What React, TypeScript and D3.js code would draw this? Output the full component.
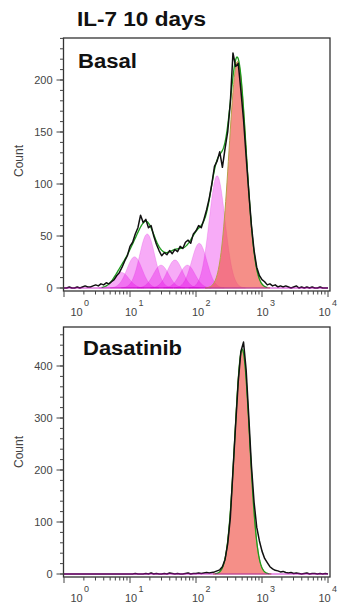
import React, { useEffect, useRef } from "react";
import * as d3 from "d3";

// histogram channels: log10 of intensity, one bin every 0.04 decade (10^0 .. 10^4)
const channelLogs = d3.range(101).map((i) => i * 0.04);

const basalCounts = [
  0, 0, 1, 0, 0, 1, 0, 1, 2, 1,
  1, 2, 3, 2, 4, 3, 5, 4, 6, 8,
  12, 15, 20, 26, 31, 40, 44, 52, 58, 70,
  63, 66, 58, 60, 50, 42, 36, 31, 34, 32,
  36, 33, 37, 35, 40, 38, 44, 46, 43, 52,
  55, 60, 58, 66, 75, 86, 100, 117, 122, 131,
  116, 134, 150, 178, 226, 213, 216, 190, 162, 126,
  92, 60, 36, 20, 12, 8, 6, 3, 4, 2,
  3, 1, 2, 1, 2, 1, 0, 1, 2, 0,
  1, 0, 1, 0, 1, 0, 0, 1, 0, 0,
  0,
];

const dasatinibCounts = [
  0, 0, 0, 0, 0, 0, 0, 0, 0, 0,
  0, 0, 0, 0, 0, 0, 0, 0, 0, 0,
  0, 0, 0, 0, 0, 0, 0, 1, 0, 0,
  0, 1, 0, 2, 0, 1, 0, 0, 1, 0,
  2, 1, 0, 1, 0, 0, 1, 2, 0, 1,
  1, 2, 1, 2, 3, 2, 3, 4, 6, 8,
  14, 28, 58, 108, 198, 286, 370, 428, 446, 392,
  302, 208, 138, 90, 64, 44, 30, 22, 14, 10,
  7, 6, 4, 5, 3, 2, 3, 1, 2, 1,
  0, 1, 2, 0, 1, 1, 0, 1, 0, 1,
  0,
];

// proliferation model fit: divided generations (magenta) and the undivided peak (red)
const basalGenPeaks = [7.4, 11.7, 18.2, 29.5, 47.9, 74.1, 112, 209];
const basalGenHeights = [15, 30, 52, 22, 27, 22, 43, 108];
const basalGenWidths = [0.115, 0.115, 0.115, 0.115, 0.115, 0.115, 0.115, 0.12]; // decades
const basalParent = [427, 218, 0.13]; // peak, height, width

const dasatinibGenPeaks: number[] = [];
const dasatinibGenHeights: number[] = [];
const dasatinibGenWidths: number[] = [];
const dasatinibParent = [501, 432, 0.112];

const xDecades = [1, 10, 100, 1000, 10000];
const xExponents = ["0", "1", "2", "3", "4"];
const basalYTicks = [0, 50, 100, 150, 200];
const dasatinibYTicks = [0, 100, 200, 300, 400];

const FONT = "'Liberation Sans', Arial, Helvetica, sans-serif";

interface PanelOpts {
  boxTop: number;
  boxBottom: number;
  zeroY: number;
  refY: number;
  yTicks: number[];
  minorStep: number;
  label: string;
  labelX: number;
  labelY: number;
  labelLength: number;
  countY: number;
  counts: number[];
  genPeaks: number[];
  genHeights: number[];
  genWidths: number[];
  parent: number[];
}

const drawPanel = (svg: d3.Selection<SVGSVGElement, unknown, null, undefined>, o: PanelOpts) => {
  const left = 63.5;
  const right = 330;
  const x = d3.scaleLog().domain([1, 10000]).range([64, 328]);
  const yRef = o.yTicks[o.yTicks.length - 1];
  const y = d3.scaleLinear().domain([0, yRef]).range([o.zeroY, o.refY]);

  const g = svg.append("g");
  const fine = d3.range(401).map((i) => i / 100);

  const bell = (peak: number, h: number, w: number) =>
    fine.map((L) => ({ L, v: h * Math.exp(-0.5 * ((L - Math.log10(peak)) / w) ** 2) }));

  const gens = o.genPeaks.map((p, i) => bell(p, o.genHeights[i], o.genWidths[i]));
  const parent = bell(o.parent[0], o.parent[1], o.parent[2]);

  const area = d3
    .area<{ L: number; v: number }>()
    .x((d) => x(10 ** d.L))
    .y0(y(0))
    .y1((d) => y(d.v));

  gens.forEach((curve) => {
    const pts = curve.filter((d) => d.v > 0.15);
    g.append("path")
      .attr("d", area(pts)!)
      .attr("fill", "#e600e6")
      .attr("fill-opacity", 0.33)
      .attr("stroke", "#d000d0")
      .attr("stroke-opacity", 0.3)
      .attr("stroke-width", 0.6);
  });

  const parentPts = parent.filter((d) => d.v > 0.15);
  g.append("path")
    .attr("d", area(parentPts)!)
    .attr("fill", "#f05a50")
    .attr("fill-opacity", 0.68)
    .attr("stroke", "#b8a04a")
    .attr("stroke-width", 1);

  // model sum (green)
  const sum = fine.map((L, i) => ({
    L,
    v: parent[i].v + d3.sum(gens, (c) => c[i].v),
  }));
  const line = d3
    .line<{ L: number; v: number }>()
    .x((d) => x(10 ** d.L))
    .y((d) => y(d.v));
  g.append("path")
    .attr("d", line(sum.filter((d) => d.v > 0.5))!)
    .attr("fill", "none")
    .attr("stroke", "#1c9c1c")
    .attr("stroke-width", 1.3);

  // raw histogram (black)
  const hist = channelLogs.map((L, i) => ({ L, v: o.counts[i] }));
  g.append("path")
    .attr("d", line(hist)!)
    .attr("fill", "none")
    .attr("stroke", "#111")
    .attr("stroke-width", 1.5)
    .attr("stroke-linejoin", "round");

  g.append("line")
    .attr("x1", x(1))
    .attr("x2", x(10000))
    .attr("y1", y(0))
    .attr("y2", y(0))
    .attr("stroke", "#c000c0")
    .attr("stroke-width", 1.1)
    .attr("stroke-opacity", 0.8);

  // frame
  g.append("rect")
    .attr("x", left)
    .attr("y", o.boxTop)
    .attr("width", right - left)
    .attr("height", o.boxBottom - o.boxTop)
    .attr("fill", "none")
    .attr("stroke", "#333")
    .attr("stroke-width", 1.3);

  // y ticks
  const minors = d3.range(0, yRef * 1.3, o.minorStep).filter((v) => y(v) >= o.boxTop - 0.5);
  g.selectAll(null)
    .data(minors)
    .enter()
    .append("line")
    .attr("x1", left - 3.5)
    .attr("x2", left)
    .attr("y1", (d) => y(d))
    .attr("y2", (d) => y(d))
    .attr("stroke", "#444")
    .attr("stroke-width", 1);
  g.selectAll(null)
    .data(o.yTicks)
    .enter()
    .append("line")
    .attr("x1", left - 7)
    .attr("x2", left)
    .attr("y1", (d) => y(d))
    .attr("y2", (d) => y(d))
    .attr("stroke", "#444")
    .attr("stroke-width", 1);
  g.selectAll(null)
    .data(o.yTicks)
    .enter()
    .append("text")
    .attr("x", left - 11)
    .attr("y", (d) => y(d))
    .attr("dy", "0.36em")
    .attr("text-anchor", "end")
    .attr("font-family", FONT)
    .attr("font-size", 11)
    .attr("fill", "#444")
    .text((d) => d);

  // x ticks (log)
  const xMinors: number[] = [];
  xDecades.slice(0, 4).forEach((dec) => {
    for (let k = 2; k <= 9; k++) xMinors.push(dec * k);
  });
  g.selectAll(null)
    .data(xMinors)
    .enter()
    .append("line")
    .attr("x1", (d) => x(d))
    .attr("x2", (d) => x(d))
    .attr("y1", o.boxBottom)
    .attr("y2", o.boxBottom + 3.5)
    .attr("stroke", "#444")
    .attr("stroke-width", 1);
  g.selectAll(null)
    .data(xDecades)
    .enter()
    .append("line")
    .attr("x1", (d) => x(d))
    .attr("x2", (d) => x(d))
    .attr("y1", o.boxBottom)
    .attr("y2", o.boxBottom + 6)
    .attr("stroke", "#444")
    .attr("stroke-width", 1);

  const shift = [12.5, 1, 2, 0.5, -3.5];
  xDecades.forEach((dec, i) => {
    const cx = x(dec) + shift[i];
    g.append("text")
      .attr("x", cx)
      .attr("y", o.boxBottom + 24.5)
      .attr("text-anchor", "middle")
      .attr("font-family", FONT)
      .attr("font-size", 11)
      .attr("fill", "#444")
      .text("10");
    g.append("text")
      .attr("x", cx + 7.5)
      .attr("y", o.boxBottom + 14.5)
      .attr("font-family", FONT)
      .attr("font-size", 9)
      .attr("fill", "#444")
      .text(xExponents[i]);
  });

  g.append("text")
    .attr("transform", `translate(23,${o.countY}) rotate(-90)`)
    .attr("text-anchor", "middle")
    .attr("font-family", FONT)
    .attr("font-size", 12)
    .attr("fill", "#444")
    .text("Count");

  g.append("text")
    .attr("x", o.labelX)
    .attr("y", o.labelY)
    .attr("font-family", FONT)
    .attr("font-size", 20)
    .attr("font-weight", "bold")
    .attr("fill", "#111")
    .attr("textLength", o.labelLength)
    .attr("lengthAdjust", "spacingAndGlyphs")
    .text(o.label);
};

const App: React.FC = () => {
  const svgRef = useRef<SVGSVGElement | null>(null);

  useEffect(() => {
    if (!svgRef.current) return;
    const svg = d3.select(svgRef.current);
    svg.selectAll("*").remove();

    svg
      .append("rect")
      .attr("width", 343)
      .attr("height", 607)
      .attr("fill", "#fff");

    svg
      .append("text")
      .attr("x", 77)
      .attr("y", 26)
      .attr("font-family", FONT)
      .attr("font-size", 20)
      .attr("font-weight", "bold")
      .attr("fill", "#111")
      .attr("textLength", 129)
      .attr("lengthAdjust", "spacingAndGlyphs")
      .text("IL-7 10 days");

    drawPanel(svg, {
      boxTop: 38,
      boxBottom: 291,
      zeroY: 288,
      refY: 80,
      yTicks: basalYTicks,
      minorStep: 10,
      label: "Basal",
      labelX: 78,
      labelY: 68,
      labelLength: 59,
      countY: 161,
      counts: basalCounts,
      genPeaks: basalGenPeaks,
      genHeights: basalGenHeights,
      genWidths: basalGenWidths,
      parent: basalParent,
    });

    drawPanel(svg, {
      boxTop: 327,
      boxBottom: 577,
      zeroY: 574,
      refY: 366,
      yTicks: dasatinibYTicks,
      minorStep: 20,
      label: "Dasatinib",
      labelX: 83,
      labelY: 355,
      labelLength: 99,
      countY: 452,
      counts: dasatinibCounts,
      genPeaks: dasatinibGenPeaks,
      genHeights: dasatinibGenHeights,
      genWidths: dasatinibGenWidths,
      parent: dasatinibParent,
    });
  }, []);

  return (
    <svg
      ref={svgRef}
      width={343}
      height={607}
      style={{ position: "absolute", left: 0, top: 0 }}
    />
  );
};

export default App;
